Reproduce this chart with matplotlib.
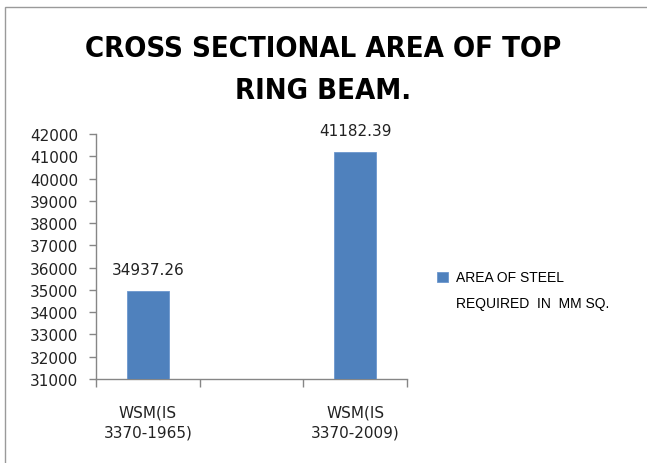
import matplotlib.pyplot as plt
from matplotlib.patches import Rectangle
from matplotlib.ticker import FixedLocator, NullFormatter

# data
categories = ["WSM(IS\n3370-1965)", "", "WSM(IS\n3370-2009)"]
steel_area = [34937.26, None, 41182.39]
series_lines = ["AREA OF STEEL", "REQUIRED  IN  MM SQ."]
title = "CROSS SECTIONAL AREA OF TOP\nRING BEAM."
y_ticks = list(range(31000, 42001, 1000))

bar_color = '#4F81BD'
axis_color = '#868686'

fig = plt.figure(figsize=(6.47, 4.64), dpi=100)
ax = fig.add_axes([96/647, 1 - 380/464, (407 - 96)/647, (380 - 135)/464])

xs = [i for i, v in enumerate(steel_area) if v is not None]
hs = [v for v in steel_area if v is not None]
bars = ax.bar(xs, hs, width=0.4, color=bar_color, edgecolor='#6C97CE',
              linewidth=0.6, zorder=3)

for x, h in zip(xs, hs):
    ax.annotate(f'{h:.2f}', (x, h), xytext=(0, 10), textcoords='offset points',
                ha='center', va='bottom', fontsize=11, color='#222222')

ax.set_ylim(31000, 42000)
ax.set_xlim(-0.5, len(categories) - 0.5)
ax.set_yticks(y_ticks)
ax.tick_params(axis='y', labelsize=11, labelcolor='#222222', color=axis_color,
               length=5, width=1, pad=8)

# category boundaries as ticks, names at the centres
ax.xaxis.set_major_locator(FixedLocator([i - 0.5 for i in range(len(categories) + 1)]))
ax.xaxis.set_major_formatter(NullFormatter())
ax.xaxis.set_minor_locator(FixedLocator(list(range(len(categories)))))
ax.set_xticklabels(categories, minor=True, linespacing=1.45)
ax.tick_params(axis='x', which='major', color=axis_color, length=6, width=1, direction='out')
ax.tick_params(axis='x', which='minor', length=0, labelsize=11, labelcolor='#222222', pad=18)

for side in ['top', 'right']:
    ax.spines[side].set_visible(False)
for side in ['left', 'bottom']:
    ax.spines[side].set_color(axis_color)
    ax.spines[side].set_linewidth(1)

fig.text(0.5, 1 - 70/464, title, ha='center', va='center', fontsize=21,
         fontweight='bold', fontstretch='condensed', family='DejaVu Sans',
         linespacing=1.65)

# legend: square beside the first line, second line without a marker
blank = Rectangle((0, 0), 1, 1, visible=False)
leg = fig.legend(handles=[bars, blank], labels=series_lines, loc='upper left',
                 bbox_to_anchor=(425/647, 1 - 259/464), frameon=False,
                 handlelength=0.75, handleheight=0.75, handletextpad=0.55,
                 labelspacing=0.85,
                 prop={'family': ['Liberation Sans', 'DejaVu Sans'], 'size': 10})

# chart area border (left and top edges visible in the crop)
fig.add_artist(Rectangle((5/647, -0.5), 1.5, 1.5 - 8/464, transform=fig.transFigure,
                         fill=False, edgecolor='#9A9A9A', linewidth=1))

fig.savefig('out.png', dpi=100)
